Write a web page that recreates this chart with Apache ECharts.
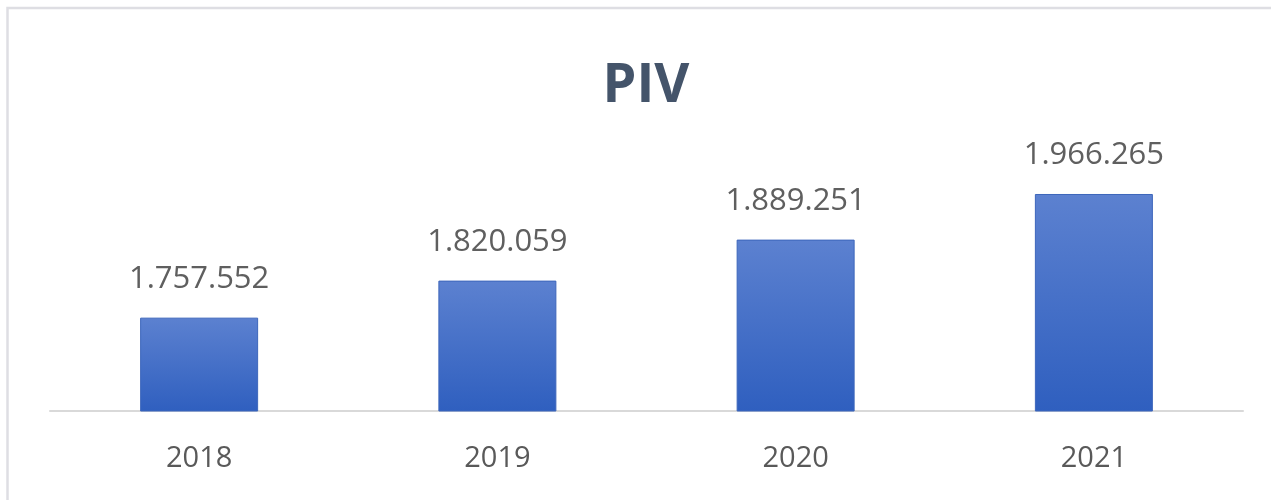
<!DOCTYPE html>
<html>
<head>
<meta charset="utf-8">
<script src="https://cdn.jsdelivr.net/npm/echarts@6/dist/echarts.min.js"></script>
<style>
html,body{margin:0;padding:0;background:#fff;}
#container{width:1271px;height:500px;}
</style>
</head>
<body>
<div id="container"></div>
<script>
var years = ['2018', '2019', '2020', '2021'];
var pivValues = [1757552, 1820059, 1889251, 1966265];
var axisMin = 1600000;
var axisMax = 2000000;

//千位分隔符用点
function fmtDots(v){
	return String(v).replace(/\B(?=(\d{3})+(?!\d))/g, '.');
}

var chart = echarts.init(document.getElementById('container'));
var option = {
	backgroundColor: '#ffffff',
	animation: false,
	title: {
		text: 'PIV',
		left: 641,
		textAlign: 'center',
		top: 55,
		textStyle: {
			fontFamily: 'Open Sans',
			fontWeight: 'bold',
			fontSize: 54,
			color: '#44546a'
		}
	},
	graphic: [{
		type: 'rect',
		shape: {x: 7.5, y: 8, width: 1300, height: 520},
		style: {fill: 'none', stroke: '#dedee3', lineWidth: 2.5},
		silent: true,
		z: -1
	}],
	grid: {left: 50, right: 28, top: 174, bottom: 89},
	xAxis: {
		type: 'category',
		data: years,
		axisTick: {show: false},
		axisLine: {lineStyle: {color: '#d9d9d9', width: 2}},
		axisLabel: {
			margin: 33,
			fontFamily: 'Open Sans',
			fontSize: 29,
			color: '#595959'
		}
	},
	yAxis: {
		type: 'value',
		min: axisMin,
		max: axisMax,
		show: false,
		splitLine: {show: false}
	},
	series: [{
		type: 'bar',
		data: pivValues,
		barWidth: 118,
		itemStyle: {
			color: new echarts.graphic.LinearGradient(0, 0, 0, 1, [
				{offset: 0, color: '#5c81d0'},
				{offset: 1, color: '#2f5fbf'}
			]),
			borderColor: '#3d66bb',
			borderWidth: 1
		},
		label: {
			show: true,
			position: 'top',
			distance: 23,
			fontFamily: 'Open Sans',
			fontSize: 31,
			color: '#5f5f5f',
			formatter: function(p){ return fmtDots(p.value); }
		}
	}]
};
chart.setOption(option);
</script>
</body>
</html>
